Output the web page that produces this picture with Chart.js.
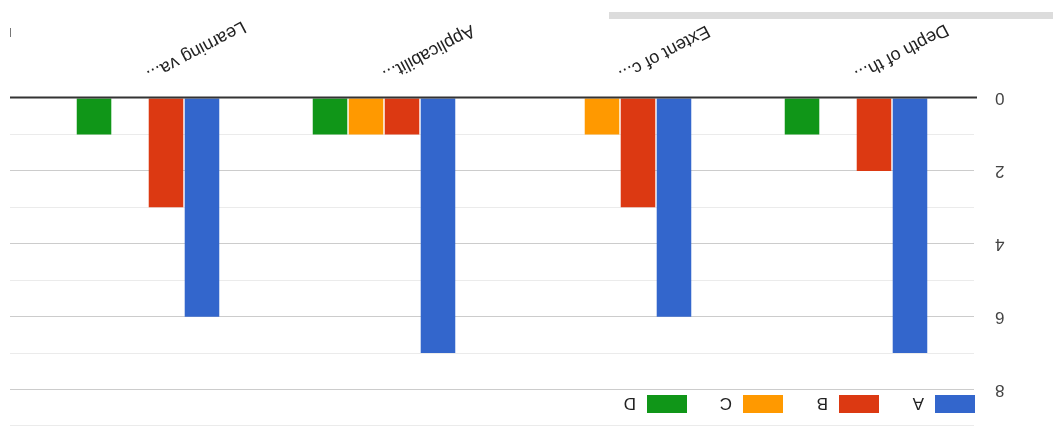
<!DOCTYPE html>
<html>
<head>
<meta charset="utf-8">
<script src="https://cdn.jsdelivr.net/npm/chart.js@4/dist/chart.umd.min.js"></script>
<style>
  body { margin: 0; background: #fff; }
  #wrap { position: relative; width: 1064px; height: 439px; transform: rotate(180deg); }
  #scrollbar { position: absolute; left: 11px; top: 420px; width: 444px; height: 7px; background: #dcdcdc; }
  #caret { position: absolute; left: 1053px; top: 402px; width: 1px; height: 9px; background: #777; }
</style>
</head>
<body>
<div id="wrap">
  <canvas id="chart" width="1064" height="439"></canvas>
  <div id="scrollbar"></div>
  <div id="caret"></div>
</div>
<script>
// data
const categories = ["Depth of th...", "Extent of c...", "Applicabilit...", "Learning va..."];
const seriesNames = ["A", "B", "C", "D"];
const seriesA = [7, 6, 7, 6];
const seriesB = [2, 3, 1, 3];
const seriesC = [0, 1, 1, 0];
const seriesD = [1, 0, 1, 1];
const yTickLabels = [0, 2, 4, 6, 8];

const colors = ["#3366cc", "#dc3912", "#ff9900", "#109618"];
const FONT = "'Liberation Sans', Arial, sans-serif";

function gridColor(ctx) {
    const v = ctx.tick ? ctx.tick.value : 0;
    if (v === 0) return "#333333";
    return v % 2 === 0 ? "#cccccc" : "#ebebeb";
}

// legend drawn in the top band between the 9 and 8 lines
const legendPlugin = {
    id: "topLegend",
    afterDraw(chart) {
        const ctx = chart.ctx;
        ctx.save();
        ctx.font = "17px " + FONT;
        ctx.textBaseline = "middle";
        ctx.textAlign = "left";
        chart.data.datasets.forEach((ds, i) => {
            const x = 89 + i * 96;
            ctx.fillStyle = ds.backgroundColor;
            ctx.fillRect(x, 26, 40, 18);
            ctx.fillStyle = "#222222";
            ctx.fillText(ds.label, x + 51, 36);
        });
        ctx.restore();
    }
};

// zero baseline over the bars
const baselinePlugin = {
    id: "baseline",
    afterDatasetsDraw(chart) {
        const y = Math.round(chart.scales.y.getPixelForValue(0)) + 0.5;
        const ctx = chart.ctx;
        ctx.save();
        ctx.strokeStyle = "#333333";
        ctx.lineWidth = 2;
        ctx.beginPath();
        ctx.moveTo(chart.chartArea.left - 3, y);
        ctx.lineTo(chart.chartArea.right + 20, y);
        ctx.stroke();
        ctx.restore();
    }
};

const allSeries = [seriesA, seriesB, seriesC, seriesD];

new Chart(document.getElementById("chart"), {
    type: "bar",
    data: {
        labels: categories,
        datasets: allSeries.map((s, i) => ({
            label: seriesNames[i],
            data: s,
            backgroundColor: colors[i],
            borderWidth: 0,
            categoryPercentage: 0.61,
            barPercentage: 0.96
        }))
    },
    options: {
        responsive: false,
        devicePixelRatio: 1,
        animation: false,
        layout: { padding: { top: 13, right: 10, bottom: 0, left: 0 } },
        plugins: {
            legend: { display: false },
            tooltip: { enabled: false }
        },
        scales: {
            x: {
                grid: { display: false },
                border: { display: false },
                ticks: {
                    color: "#222222",
                    font: { family: FONT, size: 18 },
                    minRotation: 28,
                    maxRotation: 28,
                    padding: 4,
                    autoSkip: false
                },
                afterFit(scale) {
                    scale.height = 98;
                    scale.paddingLeft = 0;
                    scale.paddingRight = 0;
                }
            },
            y: {
                min: 0,
                max: 9,
                border: { display: false },
                grid: { color: gridColor, drawTicks: false },
                ticks: {
                    stepSize: 1,
                    color: "#444444",
                    font: { family: FONT, size: 17 },
                    padding: 21,
                    callback: v => yTickLabels.includes(v) ? String(v) : ""
                },
                afterFit(scale) {
                    scale.width = 90;
                    scale.paddingTop = 0;
                    scale.paddingBottom = 0;
                }
            },
            yRight: {
                position: "right",
                min: 0,
                max: 9,
                border: { display: false },
                grid: { color: gridColor, drawOnChartArea: false, drawTicks: true, tickLength: 20 },
                ticks: { display: false, stepSize: 1 },
                afterFit(scale) {
                    scale.width = 20;
                    scale.paddingTop = 0;
                    scale.paddingBottom = 0;
                }
            }
        }
    },
    plugins: [legendPlugin, baselinePlugin]
});
</script>
</body>
</html>
